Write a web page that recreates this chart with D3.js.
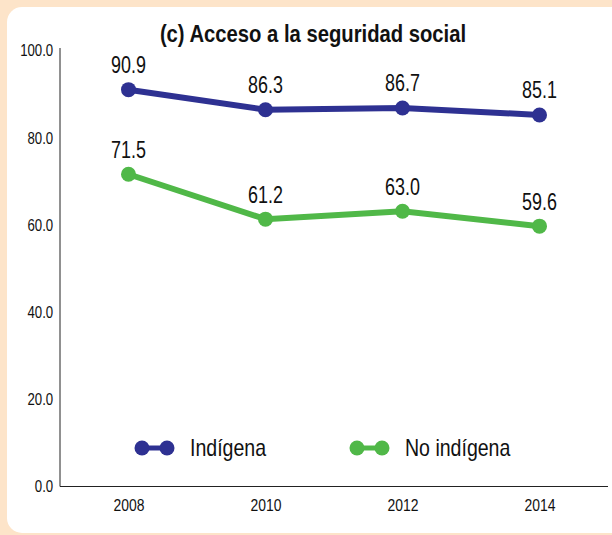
<!DOCTYPE html>
<html><head><meta charset="utf-8">
<script src="https://cdn.jsdelivr.net/npm/d3@7"></script>
<style>
html,body{margin:0;padding:0;background:#fde4c9;}
svg{display:block;}
text{font-family:"Liberation Sans",Arial,sans-serif;fill:#111;}
</style></head><body>
<svg id="c" width="612" height="535"></svg>
<script>
const years = ["2008","2010","2012","2014"];
const indigena = [90.9, 86.3, 86.7, 85.1];
const noIndigena = [71.5, 61.2, 63.0, 59.6];
const yTicks = [0, 20, 40, 60, 80, 100];
const seriesNames = ["Indígena", "No indígena"];
const colors = ["#2e3192", "#50b848"];
const title = "(c) Acceso a la seguridad social";

const svg = d3.select("#c");
svg.append("rect").attr("x",0).attr("y",0).attr("width",612).attr("height",535).attr("fill","#fde4c9");
svg.append("rect").attr("x",7).attr("y",7).attr("width",640).attr("height",526).attr("rx",15).attr("fill","#ffffff");

const x = d3.scalePoint().domain(years).range([60,608]).padding(0.5);
const y = d3.scaleLinear().domain([0,100]).range([486,50]);

// condensed text helper
function ctext(parent, px, py, str, size, sx, anchor, weight){
  return parent.append("text")
    .attr("transform",`translate(${px},${py}) scale(${sx},1)`)
    .attr("text-anchor",anchor||"start")
    .style("font-size",size+"px").style("font-weight",weight||"normal").text(str);
}

ctext(svg, 313, 41.5, title, 23, 0.88, "middle", "bold");

const yAxis = svg.append("g").attr("transform","translate(60,0)")
  .call(d3.axisLeft(y).tickValues(yTicks).tickFormat(d3.format(".1f")).tickSize(0).tickPadding(8.5));
yAxis.select(".domain").attr("stroke","#222").attr("stroke-width",1).attr("d","M0,48V486.5");
yAxis.selectAll("text").style("font-size","16.5px").attr("fill","#111")
  .attr("font-family","Liberation Sans, Arial, sans-serif").attr("transform","scale(0.8,1)").attr("dy","0.36em");

const xAxis = svg.append("g").attr("transform","translate(0,486)")
  .call(d3.axisBottom(x).tickSize(0).tickPadding(13));
xAxis.select(".domain").attr("stroke","#222").attr("stroke-width",1).attr("d","M60,0.5H608");
xAxis.selectAll("text").style("font-size","17px").attr("fill","#111")
  .attr("font-family","Liberation Sans, Arial, sans-serif").attr("transform","scale(0.82,1)");

const data = [indigena, noIndigena];
const line = d3.line().x((d,i)=>x(years[i])).y(d=>y(d));
data.forEach((vals,k)=>{
  svg.append("path").datum(vals).attr("d",line).attr("fill","none")
    .attr("stroke",colors[k]).attr("stroke-width",6);
  svg.selectAll(null).data(vals).enter().append("circle")
    .attr("cx",(d,i)=>x(years[i])).attr("cy",d=>y(d)).attr("r",7.5).attr("fill",colors[k]);
  vals.forEach((d,i)=>{
    ctext(svg, x(years[i]), y(d)-16.5, d.toFixed(1), 23, 0.78, "middle");
  });
});

const legX = [142, 357];
seriesNames.forEach((n,k)=>{
  const g = svg.append("g");
  g.append("line").attr("x1",legX[k]).attr("x2",legX[k]+25).attr("y1",448).attr("y2",448)
    .attr("stroke",colors[k]).attr("stroke-width",5);
  g.append("circle").attr("cx",legX[k]).attr("cy",448).attr("r",7.5).attr("fill",colors[k]);
  g.append("circle").attr("cx",legX[k]+25).attr("cy",448).attr("r",7.5).attr("fill",colors[k]);
  ctext(g, legX[k]+48, 455.5, n, 23, 0.85, "start");
});
</script></body></html>
